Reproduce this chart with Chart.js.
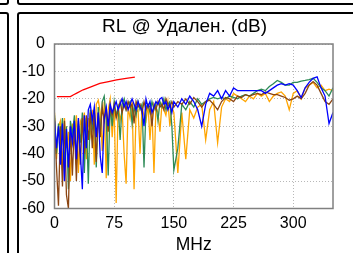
<!DOCTYPE html>
<html>
<head>
<meta charset="utf-8">
<script src="https://cdn.jsdelivr.net/npm/chart.js@4.4.1/dist/chart.umd.min.js"></script>
<style>
  html, body { margin: 0; padding: 0; width: 353px; height: 253px; overflow: hidden; background: #fff; }
  .p { position: absolute; border: 2px solid #000; border-radius: 3px; box-sizing: border-box; }
  #wrap { position: absolute; left: 0; top: 0; width: 353px; height: 256px; }
</style>
</head>
<body>
<div class="p" style="left:-20px;top:-20px;width:29px;height:25px"></div>
<div class="p" style="left:17px;top:-20px;width:400px;height:25px"></div>
<div class="p" style="left:-20px;top:12px;width:29px;height:300px"></div>
<div class="p" style="left:17px;top:12px;width:400px;height:300px"></div>
<div id="wrap"><canvas id="c"></canvas></div>
<script>

const TITLE = "RL @ Удален. (dB)";

const FREQS = [
  0, 2.5, 5, 7.5, 10, 12.5, 15, 17.5, 20, 22.5,
  25, 27.5, 30, 32.5, 35, 37.5, 40, 42.5, 45, 47.5,
  50, 52.5, 55, 57.5, 60, 62.5, 65, 67.5, 70, 72.5,
  75, 77.5, 80, 82.5, 85, 87.5, 90, 92.5, 95, 97.5,
  100, 102.5, 105, 107.5, 110, 112.5, 115, 117.5, 120, 122.5,
  125, 127.5, 130, 132.5, 135, 137.5, 140, 142.5, 145, 147.5, 150,
  155, 160, 165, 170, 175, 180, 185, 190, 195, 200,
  205, 210, 215, 220, 225, 230, 235, 240, 245, 250,
  255, 260, 265, 270, 275, 280, 285, 290, 295, 300,
  305, 310, 315, 320, 325, 330, 335, 340, 345, 350,
];

const BLUE = [
  -28, -38, -30, -44, -29, -50, -31, -45, -30, -36,
  -28, -42, -27, -40, -53, -26, -38, -24, -22, -28,
  -23, -34, -25, -41, -47, -27, -23, -30, -22, -25,
  -23, -21, -24, -22, -20, -23, -21, -24, -22, -20,
  -22, -24, -21, -23, -24, -30, -20, -23, -21, -25,
  -23, -21, -22, -20, -19.5, -22, -21, -24, -22, -25, -21,
  -23, -20, -22, -19, -21, -24, -30, -22, -18, -19,
  -17, -20, -17, -19, -16, -17, -17, -17, -17, -17,
  -17, -17, -18, -17, -16, -15, -14.5, -15, -14.5, -15,
  -17, -19.5, -16, -14, -12.5, -12, -16, -19, -29, -25,
];

const BROWN = [
  -27, -45, -59, -30, -52, -28, -55, -60, -30, -48,
  -29, -50, -28, -44, -27, -40, -26, -35, -25, -38,
  -24, -43, -25, -34, -23, -28, -24, -32, -23, -26,
  -22, -27, -24, -21, -25, -22, -24, -21, -23, -22,
  -29, -21, -23, -22, -25, -21, -24, -22, -23, -30,
  -22, -24, -21, -23, -22, -24, -20, -22, -23, -21, -23,
  -21, -22, -20, -22, -19.5, -21, -23, -21, -20.5, -22,
  -24, -21, -19.5, -20, -21, -19, -19.5, -18.5, -19, -18.5,
  -18, -18.5, -17.5, -18, -18.5, -18.5, -19, -19.5, -20.5, -20,
  -19, -20, -18, -15, -13.7, -15, -18, -21, -22, -20,
];

const GREEN = [
  -26, -40, -29, -35, -27, -45, -30, -53, -28, -33,
  -26, -44, -29, -36, -25, -47, -27, -51, -24, -31,
  -26, -45, -23, -33, -21, -19, -27, -48, -22, -30,
  -21, -26, -23, -35, -22, -20, -24, -22, -21, -29,
  -23, -26, -21, -24, -22, -45, -23, -22, -25, -21,
  -24, -22, -28, -21, -23, -20, -24, -22, -21, -30, -46,
  -38, -22, -24, -21, -23, -20, -22, -21, -20, -19.5,
  -20, -19.5, -20, -19, -19.5, -20, -19, -18.5, -19, -18,
  -17, -16.5, -17, -15.5, -14.5, -13.3, -14, -15, -15, -14,
  -14, -13.5, -13.3, -13, -12.5, -14, -16, -17, -19, -16,
];

const ORANGE = [
  -25, -42, -30, -28, -46, -27, -38, -32, -50, -29,
  -35, -26, -47, -28, -30, -25, -42, -27, -33, -24,
  -44, -22, -20.5, -25, -39, -21, -49, -24, -20, -34,
  -23, -58, -22, -28, -24, -40, -51, -23, -27, -21,
  -53, -25, -24, -40, -23, -26, -28, -22, -35, -24,
  -47, -23, -25, -32, -22, -24, -26, -21, -30, -23, -25,
  -47, -25, -42, -24, -27, -23, -22, -35, -24, -21,
  -36, -23, -20, -21, -18, -19, -20, -21, -19, -20,
  -18, -19, -18, -21, -19, -18, -17.5, -19, -24, -18,
  -17, -20, -16, -15, -14, -16, -15, -17, -16.5, -17,
];

// короткая красная кривая (предел)
const RED_FREQS = [3, 20, 24, 28, 36, 45, 57, 68, 78, 90, 101];
const RED = [-19.2, -19.2, -18.5, -17.9, -16.7, -15.7, -14.4, -13.7, -13.1, -12.5, -12.1];

const X_TICKS = [0, 75, 150, 225, 300];
const FONT = 'Arial, "Liberation Sans", sans-serif';

const pts = (xs, ys) => xs.map((x, i) => ({ x, y: ys[i] }));
const line = (data, color) => ({
  data, borderColor: color, borderWidth: 1.3, pointRadius: 0, tension: 0, fill: false,
});

// рамка области построения + заголовок (в оригинале он смещён левее центра графика)
const frame = {
  id: "frame",
  afterDraw(chart) {
    const { ctx, chartArea: a } = chart;
    ctx.save();
    ctx.strokeStyle = "#808080";
    ctx.lineWidth = 1.5;
    ctx.strokeRect(a.left, a.top, a.right - a.left, a.bottom - a.top);
    ctx.fillStyle = "#000";
    ctx.font = "19px " + FONT;
    ctx.textAlign = "center";
    ctx.textBaseline = "middle";
    ctx.fillText(TITLE, 184.5, 26.4);
    ctx.restore();
  },
};

Chart.defaults.font.family = FONT;
Chart.defaults.color = "#000";

new Chart(document.getElementById("c"), {
  type: "line",
  data: {
    datasets: [
      line(pts(RED_FREQS, RED), "#ff0000"),
      line(pts(FREQS, BLUE), "#0000ff"),
      line(pts(FREQS, BROWN), "#8b4513"),
      line(pts(FREQS, GREEN), "#2e8b57"),
      line(pts(FREQS, ORANGE), "#ffa500"),
    ],
  },
  options: {
    responsive: true,
    maintainAspectRatio: false,
    animation: false,
    layout: { padding: { left: 16, right: 20, top: 44, bottom: 0 } },
    plugins: {
      legend: { display: false },
      tooltip: { enabled: false },
      title: { display: false },
    },
    scales: {
      x: {
        type: "linear",
        min: 0,
        max: 350,
        afterBuildTicks: s => { s.ticks = X_TICKS.map(v => ({ value: v })); },
        afterFit: s => { s.height = 47.5; },
        ticks: { padding: 5.8, maxRotation: 0, font: { size: 16 }, color: "#000" },
        grid: { color: "#b8b8b8", lineWidth: 1, drawTicks: false },
        border: { display: false, dash: [1, 2] },
        title: { display: true, text: "MHz", color: "#000", font: { size: 17.5 }, padding: { top: 0, bottom: 0 } },
      },
      y: {
        min: -60,
        max: 0,
        afterFit: s => { s.width = 38.5; },
        ticks: { stepSize: 10, padding: 9.5, font: { size: 16 }, color: "#000" },
        grid: { color: "#b8b8b8", lineWidth: 1, drawTicks: false },
        border: { display: false, dash: [1, 2] },
      },
    },
  },
  plugins: [frame],
});
</script>
</body>
</html>
